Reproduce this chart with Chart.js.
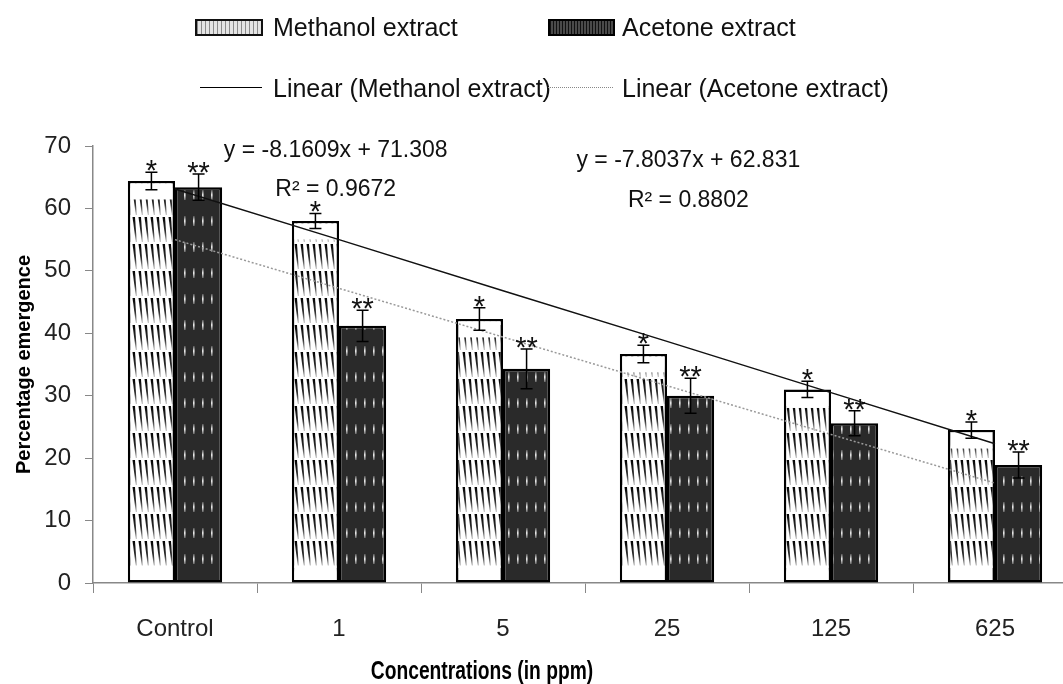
<!DOCTYPE html>
<html>
<head>
<meta charset="utf-8">
<script src="https://cdn.jsdelivr.net/npm/chart.js@4.4.1/dist/chart.umd.min.js"></script>
<style>
html,body{margin:0;padding:0;overflow:hidden;background:#fff;}
#wrap{position:relative;width:1080px;height:684px;}
.lg{position:absolute;font:25px "Liberation Sans",Arial,sans-serif;line-height:25px;color:#111;white-space:nowrap;}
.sw{position:absolute;box-sizing:border-box;}
</style>
</head>
<body>
<div id="wrap">
  <canvas id="c"></canvas>
  <div class="sw" style="left:195px;top:19px;width:68px;height:17px;border:2px solid #111;background:repeating-linear-gradient(90deg,#8a8a8a 0 1px,#e4e4e4 1px 4px)"></div>
  <div class="lg" style="left:273px;top:15px">Methanol extract</div>
  <div class="sw" style="left:548px;top:19px;width:67px;height:17px;border:2px solid #000;background:repeating-linear-gradient(90deg,#111 0 1px,#4a4a4a 1px 3px)"></div>
  <div class="lg" style="left:622px;top:15px">Acetone extract</div>
  <div class="sw" style="left:200px;top:87px;width:62px;height:0;border-top:1.5px solid #000"></div>
  <div class="lg" style="left:273px;top:76px">Linear (Methanol extract)</div>
  <div class="sw" style="left:548px;top:87px;width:65px;height:0;border-top:1px dotted #888"></div>
  <div class="lg" style="left:622px;top:76px">Linear (Acetone extract)</div>
</div>
<script>
// values
const categories = ['Control', '1', '5', '25', '125', '625'];
const methanol = [64.4, 58.0, 42.3, 36.7, 31.0, 24.5];
const acetone = [63.4, 41.2, 34.3, 30.0, 25.6, 18.9];
const methanolErr = [1.4, 1.2, 1.8, 1.4, 1.3, 1.3];
const acetoneErr = [2.1, 2.5, 3.2, 2.8, 2.0, 2.1];
const methanolTrend = [63.1, 55.0, 46.8, 38.7, 30.5, 22.3];
const acetoneTrend = [55.0, 47.2, 39.4, 31.6, 23.8, 16.0];
const yTicks = [0, 10, 20, 30, 40, 50, 60, 70];
const methanolMark = '*';
const acetoneMark = '**';
const equations = ['y = -8.1609x + 71.308', 'y = -7.8037x + 62.831'];
const rSquared = ['R\u00b2 = 0.9672', 'R\u00b2 = 0.8802'];
// where the trendline labels sit (category index, value)
const eqAt = [[0.98, 68.2, 62.0], [3.13, 66.6, 60.2]];

const FONT = '"Liberation Sans", Arial, sans-serif';
const canvas = document.getElementById('c');
const mainCtx = canvas.getContext('2d');

function methanolPattern() {
  const c = document.createElement('canvas');
  c.width = 6; c.height = 27;
  const g = c.getContext('2d');
  g.fillStyle = '#fff';
  g.fillRect(0, 0, 6, 27);
  const gr = g.createLinearGradient(0, 0, 0, 27);
  gr.addColorStop(0, '#000');
  gr.addColorStop(0.6, '#333');
  gr.addColorStop(1, '#ccc');
  g.fillStyle = gr;
  g.beginPath();
  g.moveTo(0.5, 1); g.lineTo(3, 1); g.lineTo(4.8, 26); g.lineTo(3.8, 26);
  g.closePath();
  g.fill();
  return mainCtx.createPattern(c, 'repeat');
}

function acetonePattern() {
  const c = document.createElement('canvas');
  c.width = 9; c.height = 26;
  const g = c.getContext('2d');
  g.fillStyle = '#2a2a2a';
  g.fillRect(0, 0, 9, 26);
  const gr = g.createLinearGradient(0, 8, 0, 18);
  gr.addColorStop(0, '#555');
  gr.addColorStop(0.5, '#f2f2f2');
  gr.addColorStop(1, '#666');
  g.fillStyle = gr;
  g.fillRect(4, 8, 1.6, 10);
  return mainCtx.createPattern(c, 'repeat');
}

const annotate = {
  id: 'annotate',
  afterDatasetDraw(chart, args) {
    // the methanol fill fades to white at the top and bottom of each bar
    if (args.index !== 0) return;
    const ctx = chart.ctx;
    ctx.save();
    ctx.fillStyle = '#fff';
    args.meta.data.forEach(bar => {
      const l = bar.x - bar.width / 2 + 2.5, w = bar.width - 5;
      ctx.fillRect(l, bar.y + 2.5, w, 16);
      ctx.fillRect(l, bar.base - 17, w, 14.5);
    });
    ctx.restore();
  },
  afterDatasetsDraw(chart) {
    const {ctx, scales: {x, y}} = chart;
    ctx.save();
    [[0, methanol, methanolErr, methanolMark], [1, acetone, acetoneErr, acetoneMark]].forEach(([di, vals, err, mark]) => {
      chart.getDatasetMeta(di).data.forEach((bar, i) => {
        const cx = bar.x;
        const top = y.getPixelForValue(vals[i] + err[i]);
        const bot = y.getPixelForValue(vals[i] - err[i]);
        ctx.strokeStyle = '#000';
        ctx.lineWidth = 1.5;
        ctx.beginPath();
        ctx.moveTo(cx, top); ctx.lineTo(cx, bot);
        ctx.moveTo(cx - 6, top); ctx.lineTo(cx + 6, top);
        ctx.moveTo(cx - 6, bot); ctx.lineTo(cx + 6, bot);
        ctx.stroke();
        ctx.fillStyle = '#111';
        ctx.font = '29px ' + FONT;
        ctx.textAlign = 'center';
        ctx.textBaseline = 'alphabetic';
        ctx.fillText(mark, cx, top + 8);
      });
    });
    ctx.font = '23px ' + FONT;
    ctx.fillStyle = '#111';
    ctx.textAlign = 'center';
    ctx.textBaseline = 'alphabetic';
    eqAt.forEach(([ix, ey, ry], k) => {
      const px = x.getPixelForValue(ix);
      ctx.fillText(equations[k], px, y.getPixelForValue(ey));
      ctx.fillText(rSquared[k], px, y.getPixelForValue(ry));
    });
    // x axis title, narrowed and set left of centre as in the reference
    ctx.font = 'bold 25px ' + FONT;
    ctx.fillStyle = '#000';
    ctx.translate(x.left + 389, chart.height - 5);
    ctx.scale(0.77, 1);
    ctx.fillText('Concentrations (in ppm)', 0, 0);
    ctx.restore();
  }
};

new Chart(canvas, {
  data: {
    labels: categories,
    datasets: [
      {type: 'bar', label: 'Methanol extract', data: methanol, backgroundColor: methanolPattern(),
       borderColor: '#000', borderWidth: 2.5, borderSkipped: false, order: 2},
      {type: 'bar', label: 'Acetone extract', data: acetone, backgroundColor: acetonePattern(),
       borderColor: '#000', borderWidth: 2.5, borderSkipped: false, order: 2},
      {type: 'line', label: 'Linear (Methanol extract)', data: methanolTrend, borderColor: '#111',
       borderWidth: 1.5, pointRadius: 0, fill: false, order: 1},
      {type: 'line', label: 'Linear (Acetone extract)', data: acetoneTrend, borderColor: '#999',
       borderWidth: 1.5, borderDash: [2, 2], pointRadius: 0, fill: false, order: 1}
    ]
  },
  options: {
    responsive: true,
    maintainAspectRatio: false,
    animation: false,
    layout: {padding: {top: 146, left: 0, right: 3, bottom: 0}},
    datasets: {bar: {categoryPercentage: 0.575, barPercentage: 1}},
    plugins: {legend: {display: false}, tooltip: {enabled: false}},
    scales: {
      x: {
        offset: true,
        grid: {offset: true, drawOnChartArea: false, drawTicks: true, tickLength: 10, color: '#888'},
        border: {color: '#888', width: 1.5},
        ticks: {color: '#222', font: {family: FONT, size: 24}, padding: 22},
        afterFit(s) { s.height = 101; }
      },
      y: {
        min: 0, max: 70,
        afterBuildTicks(s) { s.ticks = yTicks.map(v => ({value: v})); },
        grid: {drawOnChartArea: false, drawTicks: true, tickLength: 8, color: '#888'},
        border: {color: '#888', width: 1.5},
        ticks: {color: '#222', font: {family: FONT, size: 24}, padding: 14},
        title: {display: true, text: 'Percentage emergence', color: '#000',
                font: {family: FONT, size: 20, weight: 'bold'}, padding: {top: 12, bottom: 0}},
        afterFit(s) { s.width = 93; }
      }
    }
  },
  plugins: [annotate]
});
</script>
</body>
</html>
